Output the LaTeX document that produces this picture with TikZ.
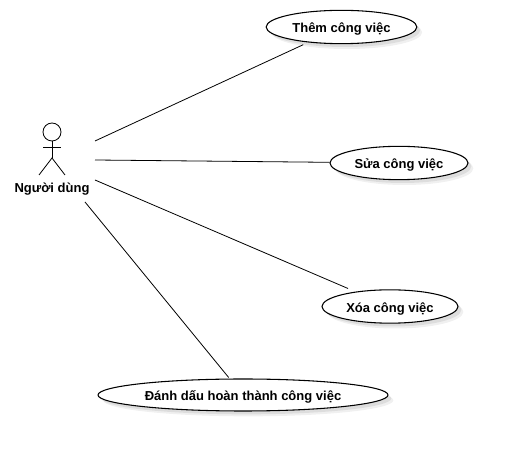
\documentclass[tikz,border=0pt]{standalone}
\usepackage{fontspec}
\setmainfont{Liberation Sans}
\usetikzlibrary{shapes.geometric, shadows}

\tikzset{
  usecase/.style={ellipse, draw, thick, fill=white, inner sep=0pt,
    font=\fontsize{9.75pt}{11pt}\selectfont\bfseries, text height=10pt, text depth=1pt,
    drop shadow={shadow xshift=4pt, shadow yshift=-4pt, fill=black, opacity=0.06},
    drop shadow={shadow xshift=2.5pt, shadow yshift=-2.5pt, fill=black, opacity=0.08}},
  actorlabel/.style={font=\fontsize{9.75pt}{11pt}\selectfont\bfseries, inner sep=0pt},
  stick/.style={line width=0.6pt},
  link/.style={line width=0.6pt}
}

\begin{document}
\begin{tikzpicture}[x=0.75pt, y=-0.75pt]

  % khung hinh
  \useasboundingbox (0,0) rectangle (508,452);

  % 1. Tac nhan
  \draw[stick] (52,132) circle (6.75pt);
  \draw[stick] (52,141) -- (52,158);
  \draw[stick] (43,147) -- (61,147);
  \draw[stick] (39,175) -- (52,158) -- (65,175);
  \node[actorlabel] (nguoidung) at (52,189) {Người dùng};

  % 2. Cac ca su dung
  \node[usecase, minimum width=113pt, minimum height=25pt] (them) at (341.5,27) {Thêm công việc};
  \node[usecase, minimum width=103.5pt, minimum height=25pt] (sua) at (399,163) {Sửa công việc};
  \node[usecase, minimum width=102pt, minimum height=25pt] (xoa) at (390,306.5) {Xóa công việc};
  \node[usecase, minimum width=217.5pt, minimum height=24pt] (danhdau) at (243,395) {Đánh dấu hoàn thành công việc};

  % 3. Diem dau cua duong noi (canh tac nhan)
  \coordinate (outA) at (95,141);
  \coordinate (outB) at (95,160);
  \coordinate (outC) at (95,180);
  \coordinate (outD) at (85,202);

  % 4. Duong noi
  \draw[link, shorten >=4pt] (outA) -- (them);
  \draw[link] (outB) -- (sua);
  \draw[link, shorten >=6pt] (outC) -- (xoa);
  \draw[link, shorten >=1pt] (outD) -- (danhdau);

\end{tikzpicture}
\end{document}
